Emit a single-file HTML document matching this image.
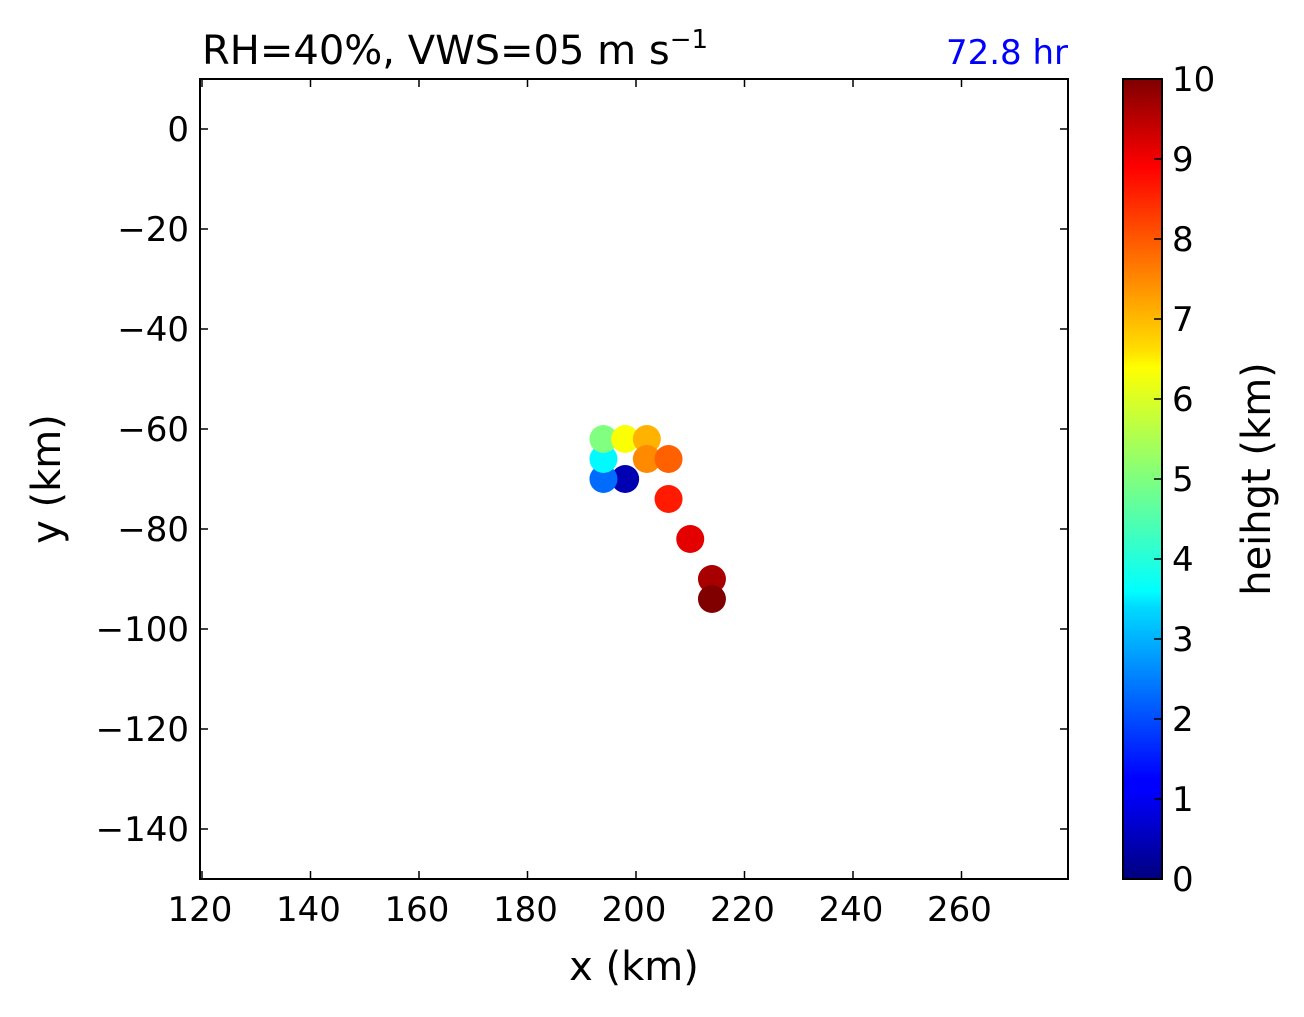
<!DOCTYPE html>
<html><head><meta charset="utf-8"><style>body{margin:0;background:#fff}svg text{font-family:"DejaVu Sans","Liberation Sans",sans-serif}</style></head>
<body>
<svg id="c" width="1304" height="1012" xmlns="http://www.w3.org/2000/svg">
<defs><linearGradient id="jet" x1="0" y1="1" x2="0" y2="0">
<stop offset="0" stop-color="#00007f"/><stop offset="0.11" stop-color="#0000ff"/><stop offset="0.125" stop-color="#0000ff"/><stop offset="0.34" stop-color="#00dbff"/><stop offset="0.36" stop-color="#0ff"/><stop offset="0.5" stop-color="#7fff7f"/><stop offset="0.64" stop-color="#ff0"/><stop offset="0.66" stop-color="#ffe000"/><stop offset="0.89" stop-color="#ff0000"/><stop offset="1" stop-color="#7f0000"/></linearGradient></defs>
<text x="202" y="64" font-size="40">RH=40%, VWS=05 m s<tspan dy="-16" font-size="26">−1</tspan></text>
<text x="1068" y="64" font-size="34" fill="#0000ff" text-anchor="end">72.8 hr</text>
<g id="plot"></g>
<rect x="200" y="79" width="868" height="800" fill="none" stroke="#000" stroke-width="2"/>
<text x="634" y="980" font-size="40" text-anchor="middle">x (km)</text>
<text transform="translate(60,479) rotate(-90)" font-size="40" text-anchor="middle">y (km)</text>
<rect x="1123" y="79" width="39" height="800" fill="url(#jet)" stroke="#000" stroke-width="2"/>
<text transform="translate(1270,479) rotate(-90)" font-size="40" text-anchor="middle">heihgt (km)</text>
</svg>
<script>
const xs=[198,194,194,194,198,202,202,206,206,210,214,214];
const ys=[-70,-70,-66,-62,-62,-62,-66,-66,-74,-82,-90,-94];
const hs=[0.5,2.3,3.7,5.0,6.2,7.0,7.4,7.8,8.5,9.0,9.6,10];
const xTicks=[120,140,160,180,200,220,240,260];
const yTicks=[0,-20,-40,-60,-80,-100,-120,-140];
const cTicks=[0,1,2,3,4,5,6,7,8,9,10];
const X=v=>200+(v-120)*868/160+2, Y=v=>79+(10-v)*5, C=v=>879-v*80;
function jet(t){const f=x=>Math.round(255*Math.max(0,Math.min(1,x)));return `rgb(${f(1.5-Math.abs(4*t-3))},${f(1.5-Math.abs(4*t-2))},${f(1.5-Math.abs(4*t-1))})`;}
const ns="http://www.w3.org/2000/svg",svg=document.getElementById('c'),p=document.getElementById('plot');
function mk(t,a,par){const e=document.createElementNS(ns,t);for(const k in a)e.setAttribute(k,a[k]);(par||svg).appendChild(e);return e;}
xTicks.forEach(v=>{
 const x=X(v);
 const l1=mk('line',{x1:x,x2:x,y1:879,y2:871,stroke:'#000','stroke-width':1.5});
 
 
 const l2=mk('line',{x1:x,x2:x,y1:79,y2:87,stroke:'#000','stroke-width':1.5});
 
 
 const t=mk('text',{x:x-2,y:921,'font-size':34,'text-anchor':'middle'});t.textContent=v;
 
 
});
yTicks.forEach(v=>{
 const y=Y(v);
 const l1=mk('line',{x1:200,x2:208,y1:y,y2:y,stroke:'#000','stroke-width':1.5});
 
 
 const l2=mk('line',{x1:1060,x2:1068,y1:y,y2:y,stroke:'#000','stroke-width':1.5});
 
 
 const t=mk('text',{x:189,y:y+12,'font-size':34,'text-anchor':'end'});t.textContent=v<0?'−'+(-v):v;
 
 
});
cTicks.forEach(v=>{
 const y=C(v);
 const l=mk('line',{x1:1154,x2:1162,y1:y,y2:y,stroke:'#000','stroke-width':1.5});
 
 
 const t=mk('text',{x:1172,y:y+12,'font-size':34});t.textContent=v;
 
 
});
xs.forEach((v,i)=>{
 const c=mk('circle',{cx:X(v),cy:Y(ys[i]),r:14,fill:jet(hs[i]/10)},p);
 
 
});
</script>
</body></html>
